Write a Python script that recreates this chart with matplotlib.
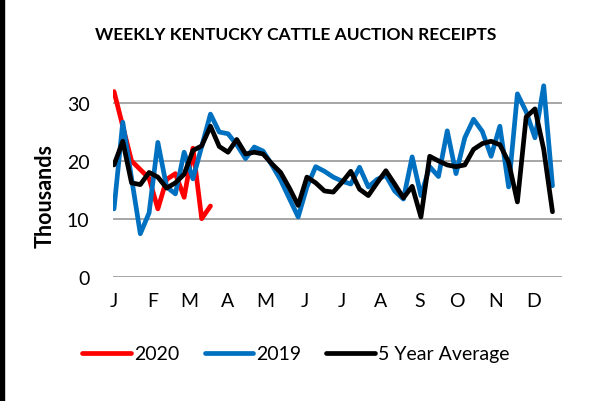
import matplotlib
matplotlib.use("Agg")
import matplotlib.pyplot as plt
from matplotlib.patches import Rectangle

plt.rcParams['font.family'] = ['Lato', 'DejaVu Sans']

# Valores semanales (miles de cabezas)
week_day = [7 * i for i in range(51)]

receipts_2020 = [32.0, 26.0, 20.0, 18.5, 17.0, 11.7, 16.8, 17.8, 13.7, 22.2, 10.0, 12.2]

receipts_2019 = [11.7, 26.7, 17.0, 7.4, 11.0, 23.2, 15.5, 14.3, 21.5, 16.9,
                 22.5, 28.1, 25.0, 24.7, 22.8, 20.4, 22.4, 21.7, 19.3, 16.7,
                 13.5, 10.3, 15.5, 19.0, 18.2, 17.2, 16.5, 16.0, 18.9, 15.5,
                 16.8, 17.5, 14.8, 13.4, 20.7, 14.0, 19.0, 17.3, 25.2, 17.8,
                 24.0, 27.2, 25.1, 20.8, 26.0, 15.5, 31.6, 28.5, 24.0, 33.0,
                 15.7]

avg_5yr = [19.3, 23.4, 16.2, 15.9, 18.0, 17.2, 15.3, 16.2, 17.7, 21.8,
           22.6, 26.0, 22.5, 21.5, 23.7, 21.2, 21.5, 21.2, 19.5, 18.0,
           15.3, 12.3, 17.2, 16.2, 14.8, 14.6, 16.3, 18.2, 15.1, 14.0,
           16.2, 18.3, 16.0, 13.6, 15.6, 10.3, 20.8, 20.0, 19.3, 19.0,
           19.3, 22.0, 23.0, 23.4, 22.8, 19.8, 12.9, 27.6, 29.0, 22.0,
           11.2]

# Inicio de cada mes (dia del anio) y etiquetas
month_day = [0, 31, 60, 91, 121, 152, 182, 213, 244, 274, 305, 335]
month_lbl = ['J', 'F', 'M', 'A', 'M', 'J', 'J', 'A', 'S', 'O', 'N', 'D']
y_ticks = [0, 10, 20, 30]

fig = plt.figure(figsize=(5.92, 4.02), dpi=100)
ax = fig.add_axes([113 / 592, 0.3097, 449 / 592, 0.5032])

lw = 3.4
ax.plot(week_day[:len(receipts_2020)], receipts_2020, color='#FF0000', lw=lw,
        label='2020', zorder=3, solid_capstyle='round', solid_joinstyle='round')
ax.plot(week_day, receipts_2019, color='#0070C0', lw=lw, label='2019',
        zorder=4, solid_capstyle='round', solid_joinstyle='round')
ax.plot(week_day, avg_5yr, color='#000000', lw=lw, label='5 Year Average',
        zorder=5, solid_capstyle='round', solid_joinstyle='round')

ax.set_xlim(-0.8, 357.6)
ax.set_ylim(0, 35)
ax.set_xticks(month_day)
ax.set_xticklabels(month_lbl)
ax.set_yticks(y_ticks)
ax.set_yticklabels([str(v) for v in y_ticks])
ax.tick_params(length=0, labelsize=14, colors='black')
ax.tick_params(axis='y', pad=17)
ax.tick_params(axis='x', pad=11)

for s in ax.spines.values():
    s.set_visible(False)
ax.grid(axis='y', color='#A6A6A6', lw=1.4, zorder=1)
ax.set_axisbelow(True)

ax.set_ylabel('Thousands', fontsize=15.5, fontweight='bold')
ax.yaxis.set_label_coords(-0.127, 0.405)

fig.text(0.5, 1 - 35 / 402, 'WEEKLY KENTUCKY CATTLE AUCTION RECEIPTS',
         ha='center', va='center', fontsize=12.5, fontweight='bold')

fig.legend(loc='center', bbox_to_anchor=(0.5, 1 - 355 / 402), ncol=3,
           frameon=False, fontsize=14, handlelength=2.5, handletextpad=0.15,
           columnspacing=1.3)

# Borde negro a la izquierda
fig.patches.append(Rectangle((0, 0), 4 / 592, 1, transform=fig.transFigure,
                             color='black', zorder=10))

fig.savefig('out.png', dpi=100)
